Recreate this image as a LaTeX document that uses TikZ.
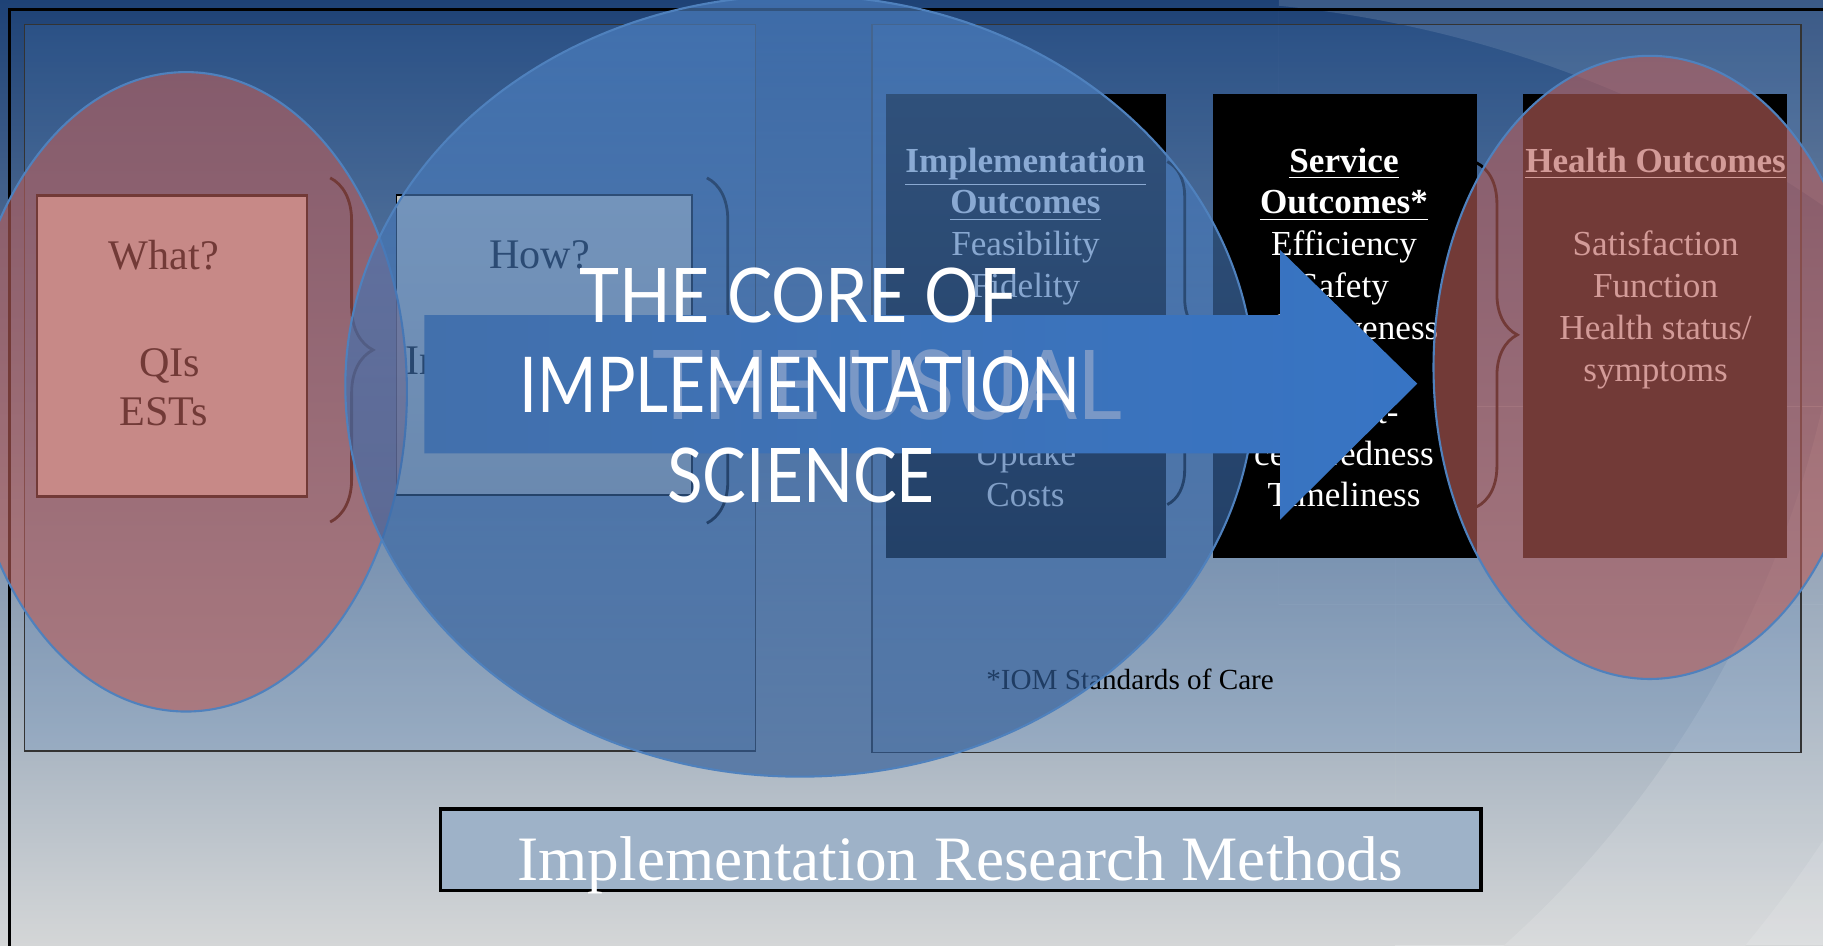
\documentclass[tikz,border=0pt]{standalone}
\usepackage{fontspec}
\setmainfont{Liberation Serif}
\newfontfamily\corefont{Lato}
\usepackage{graphicx}
\usetikzlibrary{decorations.pathreplacing}

\definecolor{bgtop}{RGB}{30,66,118}
\definecolor{bgmid}{RGB}{165,178,192}
\definecolor{bgbot}{RGB}{212,214,215}
\definecolor{panelblue}{RGB}{79,129,189}
\definecolor{edgeblue}{RGB}{79,129,189}
\definecolor{pinkfill}{RGB}{184,94,90}
\definecolor{circletop}{RGB}{80,132,198}
\definecolor{circlebot}{RGB}{46,90,150}
\definecolor{whatfill}{RGB}{224,208,210}
\definecolor{howfill}{RGB}{194,196,192}
\definecolor{arrowleft}{RGB}{66,112,172}
\definecolor{arrowright}{RGB}{55,116,196}
\definecolor{usualtext}{RGB}{122,152,198}
\definecolor{methodsfill}{RGB}{158,178,200}

\pgfdeclareverticalshading{slidebg}{100bp}{color(0bp)=(bgbot); color(25bp)=(bgbot);
  color(36.9bp)=(bgmid); color(75bp)=(bgtop); color(100bp)=(bgtop)}

\newcommand\coreline[3]{\resizebox{#1}{#2}{\corefont #3}}

\begin{document}
\begin{tikzpicture}[x=0.011626cm, y=-0.011626cm,
    panel/.style={draw=black!80, line width=0.4pt, fill=panelblue, fill opacity=0.2},
    bigtext/.style={font=\fontsize{12}{14}\selectfont, anchor=base, inner sep=0pt},
    boxtext/.style={font=\fontsize{10}{12}\selectfont, text=white, anchor=base, inner sep=0pt},
    darkbrace/.style={decorate, decoration={brace, amplitude=#1}, line width=0.8pt, black},
    pinkoval/.style={fill=pinkfill, fill opacity=0.62, draw=edgeblue, line width=0.6pt},
    bluecircle/.style={top color=circletop, bottom color=circlebot, fill opacity=0.64, draw=edgeblue, line width=0.6pt},
    coretext/.style={text=white, anchor=base, inner sep=0pt}]

    \useasboundingbox (0,0) rectangle (1568,813);
    \clip (0,0) rectangle (1568,813);

    %% Background
    \shade[shading=slidebg] (0,0) rectangle (1568,813);
    \begin{scope}
        \clip (1100,0) rectangle (1568,520);
        \fill[white, opacity=0.13, even odd rule] (1100,0) rectangle (1568,520) (1000,1000) circle (1000);
    \end{scope}
    \begin{scope}
        \clip (1200,350) rectangle (1568,813);
        \fill[white, opacity=0.13, even odd rule] (1200,350) rectangle (1568,813) (700,150) circle (890);
        \fill[white, opacity=0.12, even odd rule] (1200,350) rectangle (1568,813) (700,150) circle (1040);
    \end{scope}
    \draw[line width=0.8pt] (1580,8) -- (8,8) -- (8,830);

    %% Panels
    \draw[panel] (21,21) rectangle (650,646);
    \draw[panel] (750,21) rectangle (1549,647);

    %% What?
    \draw[fill=whatfill, line width=0.7pt] (32,168) rectangle (264,427);
    \node[bigtext] (what) at (141,232) {What?};
    \node[bigtext] (qis) at (146,324) {QIs};
    \node[bigtext] (ests) at (141,366) {ESTs};
    \draw[darkbrace=12.2pt] (284,153) -- (284,449);

    %% How?
    \draw[fill=howfill, line width=0.5pt] (341,168) rectangle (595,426);
    \node[bigtext] (how) at (464,231) {How?};
    \node[bigtext] (howimpl) at (464,322) {Implementation};
    \draw[darkbrace=11.9pt] (608,153) -- (608,450);

    %% Implementation outcomes
    \fill (762,81) rectangle (1003,480);
    \node[boxtext] (implhead) at (882,148) {\underline{\textbf{Implementation}}};
    \node[boxtext] (implhead2) at (882,184) {\underline{\textbf{Outcomes}}};
    \foreach \t/\y [count=\i] in {Feasibility/220, Fidelity/256, Uptake/400, Costs/436}
        \node[boxtext] (impl\i) at (882,\y) {\t};
    \draw[darkbrace=9.9pt] (1004,139) -- (1004,434);

    %% Service outcomes
    \fill (1043,81) rectangle (1270,480);
    \node[boxtext] (servhead) at (1156,148) {\underline{\textbf{Service}}};
    \node[boxtext] (servhead2) at (1156,184) {\underline{\textbf{Outcomes*}}};
    \foreach \t/\y [count=\i] in {Efficiency/220, Safety/256, Effectiveness/292,
        Patient-/364, centeredness/400, Timeliness/436}
        \node[boxtext] (serv\i) at (1156,\y) {\t};
    \draw[darkbrace=11.6pt] (1270,140) -- (1270,436);

    %% Health outcomes
    \fill (1310,81) rectangle (1537,480);
    \node[boxtext] (healthhead) at (1424,148) {\underline{\textbf{Health Outcomes}}};
    \foreach \t/\y [count=\i] in {Satisfaction/220, Function/256, Health status\slash/292, symptoms/328}
        \node[boxtext] (health\i) at (1424,\y) {\t};

    \node[font=\fontsize{8.3}{10}\selectfont, anchor=base, inner sep=0pt] (iom) at (972,593) {*IOM Standards of Care};

    %% Overlays
    \path[pinkoval] (160,337) ellipse [x radius=190, y radius=275];
    \path[pinkoval] (1419,316) ellipse [x radius=186, y radius=268];
    \path[bluecircle] (688,332) ellipse [x radius=391, y radius=336];

    \shade[left color=arrowleft, right color=arrowright]
        (365,271) -- (1101,271) -- (1101,215) -- (1219,330) -- (1101,447) -- (1101,390) -- (365,390) -- cycle;

    \node[coretext, text=usualtext] (usual) at (763,361) {\coreline{4.697cm}{0.698cm}{THE USUAL}};
    \node[coretext] (core1) at (686.5,277) {\coreline{4.383cm}{0.546cm}{THE CORE OF}};
    \node[coretext] (core2) at (688,355) {\coreline{5.604cm}{0.558cm}{IMPLEMENTATION}};
    \node[coretext] (core3) at (689,432) {\coreline{2.674cm}{0.546cm}{SCIENCE}};

    %% Methods
    \draw[fill=methodsfill, line width=1pt] (379,696) rectangle (1274,766);
    \node[font=\fontsize{18}{20}\selectfont, text=white, anchor=base, inner sep=0pt] (methods) at (826,757)
        {Implementation Research Methods};

\end{tikzpicture}
\end{document}
